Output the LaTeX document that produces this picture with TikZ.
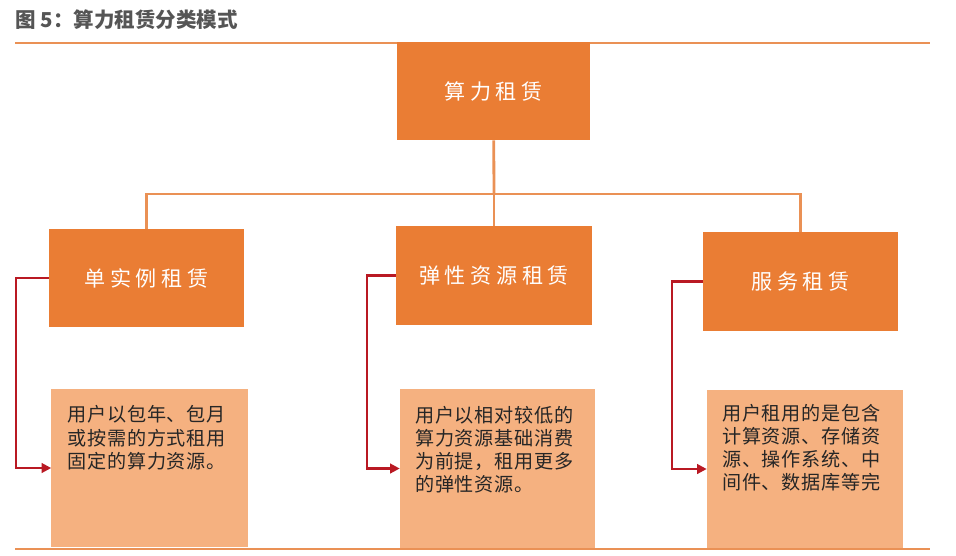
\documentclass[tikz,border=0pt]{standalone}
\usepackage{fontspec}
\setmainfont{Noto Sans CJK SC}
\newfontfamily\boxfont[LetterSpace=22]{Noto Sans CJK SC}
\newfontfamily\descfont[LetterSpace=4]{Noto Sans CJK SC}
\usepackage{xcolor}
\usepackage{tikz}
\usetikzlibrary{arrows.meta,positioning}

\definecolor{boxorange}{RGB}{234,125,52}
\definecolor{descorange}{RGB}{245,177,128}
\definecolor{lineorange}{RGB}{234,145,85}
\definecolor{arrowred}{RGB}{185,25,35}
\definecolor{titlegray}{RGB}{85,85,85}

\begin{document}
\begin{tikzpicture}[x=0.025cm, y=-0.025cm,
  catbox/.style={fill=boxorange, draw=none, text=white, minimum width=4.875cm, minimum height=2.45cm, font=\boxfont\fontsize{15}{17}\selectfont},
  descbox/.style={fill=descorange, draw=none, minimum width=4.9cm, minimum height=3.95cm},
  desctext/.style={inner sep=0pt, align=left, text=black!85, font=\descfont\fontsize{13.6}{16.4}\selectfont},
  tree/.style={lineorange, line width=2pt},
  link/.style={arrowred, line width=1.6pt, -{Triangle[length=2.4mm,width=2.4mm]}}]
\useasboundingbox (0,0) rectangle (956,555);

% Heading and rules
\node[anchor=west, inner sep=0pt, text=titlegray, font=\bfseries\fontsize{14.6}{16}\selectfont] (head) at (15,20) {图 5：算力租赁分类模式};
\draw[lineorange, line width=1.4pt] (15,43) -- (930,43);
\draw[lineorange, line width=1.4pt] (15,549) -- (930,549);

% Root
\node[catbox, minimum width=4.825cm] (root) at (493.5,91) {算力租赁};

% Categories
\node[catbox] (single) at (146.5,278) {单实例租赁};
\node[catbox] (elastic) at (494,275.5) {弹性资源租赁};
\node[catbox] (service) at (800.5,281.5) {服务租赁};

% Tree connectors
\coordinate (hub) at (494,194);
\draw[tree] (root) -- (hub);
\draw[tree] (single.north) |- (hub) -| (service.north);
\draw[tree] (hub) -- (elastic);

% Descriptions
\node[descbox] (d1) at (149.5,468) {};
\node[descbox, minimum width=4.875cm] (d2) at (497.5,468.5) {};
\node[descbox] (d3) at (805,469) {};

\node[desctext, below right=0.42cm and 0.4cm of d1.north west] (t1) {用户以包年、包月\\或按需的方式租用\\固定的算力资源。};
\node[desctext, below right=0.42cm and 0.38cm of d2.north west] (t2) {用户以相对较低的\\算力资源基础消费\\为前提，租用更多\\的弹性资源。};
\node[desctext, below right=0.35cm and 0.38cm of d3.north west] (t3) {用户租用的是包含\\计算资源、存储资\\源、操作系统、中\\间件、数据库等完};

% Red links
\draw[link] (single.west) -- ++(-33,0) |- (d1.west);
\draw[link] (elastic.west) -- ++(-29,0) |- (d2.west);
\draw[link] (service.west) -- ++(-31,0) |- (d3.west);
\end{tikzpicture}
\end{document}
